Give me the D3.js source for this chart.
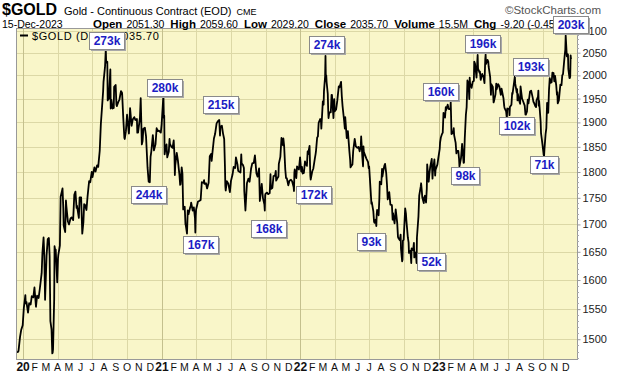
<!DOCTYPE html>
<html><head><meta charset="utf-8">
<script src="https://d3js.org/d3.v7.min.js"></script>
<style>
html,body{margin:0;padding:0;background:#fff;}
svg{display:block;}
text{font-family:Arial,"Liberation Sans",sans-serif;}
</style></head><body>
<svg id="c" width="620" height="376"></svg>
<script>
// ---------- DATA ----------
const close2019 = [["2019-12-16",1480],["2019-12-18",1479],["2019-12-20",1481],["2019-12-24",1504],["2019-12-27",1515],["2019-12-31",1523]];
const close2020 = [["2020-01-03",1552],["2020-01-06",1568],["2020-01-07",1574],["2020-01-08",1560],["2020-01-10",1562],["2020-01-14",1544],["2020-01-17",1560],["2020-01-21",1558],["2020-01-24",1572],["2020-01-28",1570],["2020-01-31",1587],["2020-02-04",1554],["2020-02-07",1573],["2020-02-11",1569],["2020-02-14",1584],["2020-02-19",1612],["2020-02-21",1648],["2020-02-24",1676],["2020-02-26",1643],["2020-02-28",1566],["2020-03-03",1644],["2020-03-06",1673],["2020-03-09",1675],["2020-03-11",1642],["2020-03-13",1530],["2020-03-16",1516],["2020-03-18",1477],["2020-03-19",1478],["2020-03-20",1484],["2020-03-23",1567],["2020-03-24",1660],["2020-03-26",1651],["2020-03-27",1654],["2020-03-31",1596],["2020-04-02",1638],["2020-04-03",1645],["2020-04-07",1661],["2020-04-09",1752],["2020-04-14",1768],["2020-04-16",1731],["2020-04-17",1698],["2020-04-21",1686],["2020-04-23",1745],["2020-04-24",1735],["2020-04-28",1706],["2020-05-01",1700],["2020-05-05",1711],["2020-05-08",1713],["2020-05-12",1708],["2020-05-15",1756],["2020-05-18",1762],["2020-05-21",1731],["2020-05-22",1735],["2020-05-27",1712],["2020-05-29",1751],["2020-06-02",1751],["2020-06-05",1683],["2020-06-08",1704],["2020-06-10",1738],["2020-06-12",1737],["2020-06-16",1727],["2020-06-19",1753],["2020-06-23",1782],["2020-06-26",1780],["2020-06-30",1800],["2020-07-02",1790],["2020-07-07",1809],["2020-07-10",1801],["2020-07-14",1813],["2020-07-17",1810],["2020-07-21",1842],["2020-07-24",1897],["2020-07-27",1931],["2020-07-30",1966],["2020-07-31",1986],["2020-08-04",2019],["2020-08-06",2058],["2020-08-07",2028],["2020-08-10",2030],["2020-08-11",1946],["2020-08-13",1954],["2020-08-14",1949],["2020-08-18",2013],["2020-08-19",1929],["2020-08-21",1947],["2020-08-24",1929],["2020-08-27",1930],["2020-08-28",1975],["2020-09-01",1979],["2020-09-03",1938],["2020-09-04",1934],["2020-09-08",1943],["2020-09-11",1948],["2020-09-15",1966],["2020-09-18",1962],["2020-09-21",1910],["2020-09-24",1868],["2020-09-25",1866],["2020-09-28",1882],["2020-10-01",1916],["2020-10-02",1907],["2020-10-06",1877],["2020-10-09",1930],["2020-10-13",1893],["2020-10-16",1906],["2020-10-20",1911],["2020-10-23",1905],["2020-10-27",1907],["2020-10-28",1879],["2020-10-30",1879],["2020-11-04",1910],["2020-11-06",1951],["2020-11-09",1855],["2020-11-11",1862],["2020-11-13",1887],["2020-11-17",1889],["2020-11-20",1872],["2020-11-24",1809],["2020-11-27",1781],["2020-11-30",1780],["2020-12-02",1830],["2020-12-04",1841],["2020-12-08",1874],["2020-12-11",1843],["2020-12-15",1855],["2020-12-18",1888],["2020-12-21",1882],["2020-12-24",1883],["2020-12-29",1879],["2020-12-31",1895]];
const close2021 = [["2021-01-04",1946],["2021-01-05",1954],["2021-01-06",1909],["2021-01-07",1914],["2021-01-08",1835],["2021-01-11",1850],["2021-01-13",1855],["2021-01-15",1829],["2021-01-19",1840],["2021-01-21",1866],["2021-01-22",1856],["2021-01-26",1850],["2021-01-29",1848],["2021-02-01",1863],["2021-02-03",1833],["2021-02-04",1794],["2021-02-05",1813],["2021-02-09",1838],["2021-02-12",1823],["2021-02-16",1795],["2021-02-18",1775],["2021-02-19",1776],["2021-02-22",1809],["2021-02-24",1797],["2021-02-26",1728],["2021-03-02",1733],["2021-03-04",1700],["2021-03-05",1698],["2021-03-08",1683],["2021-03-10",1726],["2021-03-12",1719],["2021-03-16",1731],["2021-03-18",1735],["2021-03-19",1741],["2021-03-23",1726],["2021-03-26",1732],["2021-03-29",1712],["2021-03-30",1685],["2021-03-31",1715],["2021-04-01",1728],["2021-04-06",1743],["2021-04-09",1744],["2021-04-13",1746],["2021-04-16",1780],["2021-04-20",1779],["2021-04-22",1784],["2021-04-23",1777],["2021-04-27",1778],["2021-04-30",1768],["2021-05-04",1779],["2021-05-07",1831],["2021-05-11",1836],["2021-05-12",1822],["2021-05-14",1838],["2021-05-18",1867],["2021-05-21",1876],["2021-05-25",1898],["2021-05-28",1902],["2021-06-01",1905],["2021-06-03",1873],["2021-06-04",1891],["2021-06-08",1893],["2021-06-11",1877],["2021-06-14",1866],["2021-06-16",1812],["2021-06-17",1773],["2021-06-18",1764],["2021-06-21",1782],["2021-06-25",1777],["2021-06-29",1761],["2021-07-01",1776],["2021-07-02",1783],["2021-07-06",1795],["2021-07-09",1810],["2021-07-13",1808],["2021-07-15",1829],["2021-07-19",1815],["2021-07-21",1802],["2021-07-23",1801],["2021-07-27",1799],["2021-07-29",1835],["2021-07-30",1817],["2021-08-03",1813],["2021-08-05",1808],["2021-08-06",1763],["2021-08-09",1726],["2021-08-11",1752],["2021-08-13",1778],["2021-08-17",1787],["2021-08-20",1781],["2021-08-24",1807],["2021-08-27",1817],["2021-08-31",1818],["2021-09-03",1833],["2021-09-07",1797],["2021-09-10",1791],["2021-09-14",1807],["2021-09-16",1744],["2021-09-17",1751],["2021-09-21",1777],["2021-09-24",1750],["2021-09-28",1737],["2021-09-29",1726],["2021-09-30",1755],["2021-10-01",1758],["2021-10-05",1760],["2021-10-08",1757],["2021-10-12",1759],["2021-10-14",1796],["2021-10-15",1767],["2021-10-19",1769],["2021-10-22",1792],["2021-10-26",1793],["2021-10-28",1802],["2021-10-29",1783],["2021-11-02",1789],["2021-11-04",1791],["2021-11-05",1816],["2021-11-09",1830],["2021-11-12",1868],["2021-11-16",1853],["2021-11-17",1867],["2021-11-19",1852],["2021-11-22",1805],["2021-11-24",1788],["2021-11-26",1788],["2021-11-30",1774],["2021-12-03",1783],["2021-12-07",1785],["2021-12-10",1782],["2021-12-14",1771],["2021-12-15",1763],["2021-12-16",1799],["2021-12-17",1805],["2021-12-21",1788],["2021-12-23",1811],["2021-12-28",1805],["2021-12-31",1829]];
const close2022 = [["2022-01-03",1801],["2022-01-05",1810],["2022-01-07",1797],["2022-01-10",1798],["2022-01-13",1821],["2022-01-14",1817],["2022-01-18",1812],["2022-01-20",1841],["2022-01-21",1835],["2022-01-25",1852],["2022-01-27",1793],["2022-01-28",1785],["2022-02-01",1801],["2022-02-04",1807],["2022-02-08",1827],["2022-02-10",1836],["2022-02-11",1842],["2022-02-14",1869],["2022-02-16",1871],["2022-02-18",1899],["2022-02-22",1907],["2022-02-24",1904],["2022-02-25",1887],["2022-03-01",1944],["2022-03-03",1937],["2022-03-04",1966],["2022-03-07",1998],["2022-03-08",2043],["2022-03-09",1988],["2022-03-10",2000],["2022-03-11",1985],["2022-03-14",1960],["2022-03-15",1929],["2022-03-16",1909],["2022-03-18",1921],["2022-03-22",1921],["2022-03-24",1958],["2022-03-25",1958],["2022-03-29",1909],["2022-03-31",1949],["2022-04-01",1923],["2022-04-05",1927],["2022-04-08",1945],["2022-04-12",1976],["2022-04-14",1974],["2022-04-18",1986],["2022-04-20",1955],["2022-04-22",1934],["2022-04-26",1904],["2022-04-28",1887],["2022-04-29",1911],["2022-05-03",1868],["2022-05-05",1876],["2022-05-06",1882],["2022-05-10",1841],["2022-05-12",1824],["2022-05-13",1809],["2022-05-16",1813],["2022-05-18",1815],["2022-05-20",1842],["2022-05-24",1866],["2022-05-27",1851],["2022-05-31",1848],["2022-06-03",1850],["2022-06-06",1841],["2022-06-09",1852],["2022-06-10",1871],["2022-06-13",1831],["2022-06-15",1811],["2022-06-16",1851],["2022-06-17",1840],["2022-06-21",1832],["2022-06-24",1826],["2022-06-28",1820],["2022-06-30",1807],["2022-07-01",1811],["2022-07-05",1763],["2022-07-07",1739],["2022-07-08",1742],["2022-07-12",1725],["2022-07-14",1705],["2022-07-15",1703],["2022-07-18",1709],["2022-07-20",1697],["2022-07-21",1719],["2022-07-22",1727],["2022-07-26",1717],["2022-07-28",1750],["2022-07-29",1781],["2022-08-02",1776],["2022-08-04",1806],["2022-08-05",1791],["2022-08-08",1805],["2022-08-10",1812],["2022-08-12",1816],["2022-08-15",1798],["2022-08-17",1776],["2022-08-19",1747],["2022-08-23",1761],["2022-08-26",1737],["2022-08-30",1736],["2022-09-01",1709],["2022-09-02",1721],["2022-09-06",1702],["2022-09-08",1718],["2022-09-09",1728],["2022-09-13",1703],["2022-09-15",1677],["2022-09-16",1675],["2022-09-20",1671],["2022-09-22",1681],["2022-09-23",1655],["2022-09-26",1633],["2022-09-27",1636],["2022-09-28",1670],["2022-09-30",1672],["2022-10-04",1730],["2022-10-06",1720],["2022-10-07",1709],["2022-10-11",1676],["2022-10-13",1667],["2022-10-14",1648],["2022-10-18",1652],["2022-10-20",1630],["2022-10-21",1656],["2022-10-25",1653],["2022-10-27",1666],["2022-10-28",1640],["2022-11-01",1649],["2022-11-03",1630],["2022-11-04",1676],["2022-11-08",1715],["2022-11-10",1754],["2022-11-14",1772],["2022-11-15",1778],["2022-11-17",1762],["2022-11-18",1751],["2022-11-22",1740],["2022-11-23",1750],["2022-11-25",1754],["2022-11-28",1741],["2022-11-30",1768],["2022-12-01",1815],["2022-12-05",1781],["2022-12-07",1798],["2022-12-09",1810],["2022-12-13",1826],["2022-12-15",1787],["2022-12-16",1800],["2022-12-20",1825],["2022-12-22",1793],["2022-12-23",1804],["2022-12-28",1815],["2022-12-30",1826]];
const close2023 = [["2023-01-03",1846],["2023-01-04",1859],["2023-01-06",1869],["2023-01-09",1876],["2023-01-11",1879],["2023-01-13",1920],["2023-01-17",1910],["2023-01-19",1932],["2023-01-20",1926],["2023-01-24",1937],["2023-01-26",1930],["2023-01-27",1928],["2023-01-31",1928],["2023-02-01",1942],["2023-02-02",1912],["2023-02-03",1876],["2023-02-07",1878],["2023-02-09",1888],["2023-02-10",1874],["2023-02-14",1858],["2023-02-16",1837],["2023-02-17",1842],["2023-02-21",1842],["2023-02-23",1826],["2023-02-24",1811],["2023-02-28",1827],["2023-03-02",1845],["2023-03-03",1856],["2023-03-07",1818],["2023-03-08",1819],["2023-03-10",1867],["2023-03-13",1916],["2023-03-15",1932],["2023-03-17",1989],["2023-03-20",1982],["2023-03-22",1949],["2023-03-23",1995],["2023-03-24",1983],["2023-03-28",1973],["2023-03-31",1986],["2023-04-03",1988],["2023-04-04",2030],["2023-04-06",2026],["2023-04-10",1995],["2023-04-12",2029],["2023-04-13",2045],["2023-04-14",2015],["2023-04-18",2006],["2023-04-19",2008],["2023-04-21",1990],["2023-04-25",2003],["2023-04-27",1998],["2023-04-28",1999],["2023-05-01",1983],["2023-05-03",2035],["2023-05-04",2046],["2023-05-05",2025],["2023-05-09",2034],["2023-05-11",2030],["2023-05-12",2019],["2023-05-16",1996],["2023-05-18",1958],["2023-05-19",1981],["2023-05-23",1975],["2023-05-25",1942],["2023-05-26",1944],["2023-05-30",1959],["2023-06-01",1982],["2023-06-02",1970],["2023-06-06",1981],["2023-06-08",1978],["2023-06-09",1977],["2023-06-13",1958],["2023-06-15",1971],["2023-06-20",1951],["2023-06-22",1934],["2023-06-23",1930],["2023-06-27",1923],["2023-06-29",1908],["2023-06-30",1929],["2023-07-05",1928],["2023-07-06",1915],["2023-07-07",1932],["2023-07-11",1937],["2023-07-13",1962],["2023-07-14",1960],["2023-07-18",1985],["2023-07-20",1998],["2023-07-21",1982],["2023-07-25",1963],["2023-07-26",1970],["2023-07-27",1946],["2023-07-28",1960],["2023-08-01",1944],["2023-08-03",1939],["2023-08-04",1976],["2023-08-08",1950],["2023-08-10",1946],["2023-08-15",1935],["2023-08-17",1916],["2023-08-18",1916],["2023-08-21",1923],["2023-08-23",1948],["2023-08-25",1940],["2023-08-29",1965],["2023-08-31",1966],["2023-09-01",1967],["2023-09-05",1952],["2023-09-07",1943],["2023-09-08",1942],["2023-09-12",1934],["2023-09-14",1932],["2023-09-15",1946],["2023-09-19",1954],["2023-09-20",1967],["2023-09-21",1935],["2023-09-22",1945],["2023-09-26",1901],["2023-09-27",1878],["2023-09-29",1866],["2023-10-02",1847],["2023-10-04",1834],["2023-10-05",1831],["2023-10-06",1845],["2023-10-09",1876],["2023-10-11",1888],["2023-10-13",1941],["2023-10-16",1920],["2023-10-18",1968],["2023-10-20",1994],["2023-10-23",1984],["2023-10-25",1985],["2023-10-27",2006],["2023-10-30",2005],["2023-11-01",1987],["2023-11-03",1999],["2023-11-06",1979],["2023-11-08",1958],["2023-11-09",1964],["2023-11-10",1940],["2023-11-13",1946],["2023-11-15",1963],["2023-11-17",1980],["2023-11-20",1979],["2023-11-22",2000],["2023-11-24",2003],["2023-11-28",2041],["2023-11-30",2057],["2023-12-01",2089],["2023-12-04",2042],["2023-12-06",2047],["2023-12-07",2046],["2023-12-08",2014],["2023-12-11",1994],["2023-12-12",1994],["2023-12-13",1998],["2023-12-14",2044],["2023-12-15",2036]];

const priceTicks = [1500,1550,1600,1650,1700,1750,1800,1850,1900,1950,2000,2050,2100];
const priceDomain = [1468, 2106];
const monthInitials = ["J","F","M","A","M","J","J","A","S","O","N","D"];

// volume call-outs: label, anchor date, anchor price, side of the anchor
const annLabels = ["273k","280k","244k","167k","215k","168k","172k","274k","93k","52k","160k","98k","196k","102k","193k","71k","203k"];
const annDates  = ["2020-08-08","2021-01-07","2020-11-26","2021-04-13","2021-06-05","2021-10-10","2022-02-04","2022-03-11","2022-07-06","2022-12-10","2023-01-05","2023-03-10","2023-04-27","2023-07-25","2023-08-29","2023-10-06","2023-12-13"];
const annPrices = [2059,1955,1772,1678,1920,1709,1772,2050,1684,1648,1947,1810,2052,1912,2001,1831,2095];
const annSides  = ["above","above","below","below","above","below","below","above","below","below","above","below","above","below","above","below","above"];

const header = {symbol:"$GOLD", name:"Gold - Continuous Contract (EOD)", exch:"CME", date:"15-Dec-2023"};
const quoteLabels = ["Open","High","Low","Close","Volume","Chg"];
const quoteValues = ["2051.30","2059.60","2029.20","2035.70","15.5M","-9.20 (-0.45%)"];
const legendText = "$GOLD (Daily) 2035.70";

// ---------- LAYOUT ----------
const svg = d3.select("#c");
const P = {l:16, r:577, t:28, b:359};
const parse = d3.timeParse("%Y-%m-%d");
const series = [...close2019, ...close2020, ...close2021, ...close2022, ...close2023]
  .map(([d,v]) => ({date: parse(d), close: v}));

const x = d3.scaleTime().domain(d3.extent(series, d => d.date)).range([17, 571]);
const y = d3.scaleLog().domain(priceDomain).range([P.b, P.t]);

svg.append("rect").attr("width",620).attr("height",376).attr("fill","#fff");

// plot background
svg.append("rect").attr("x",P.l).attr("y",P.t).attr("width",P.r-P.l).attr("height",P.b-P.t)
  .attr("fill","#f9f6c9");

svg.append("defs").append("clipPath").attr("id","clip")
  .append("rect").attr("x",P.l).attr("y",P.t).attr("width",P.r-P.l).attr("height",P.b-P.t);

// horizontal grid
svg.append("g").selectAll("line").data(priceTicks).join("line")
  .attr("x1",P.l).attr("x2",P.r).attr("y1",d=>Math.round(y(d))+0.5).attr("y2",d=>Math.round(y(d))+0.5)
  .attr("stroke","#dcd8a6").attr("stroke-width",1);

// vertical grid (quarterly)
const qMonths = d3.timeMonth.every(3).range(new Date(2020,0,1), x.domain()[1]);
svg.append("g").selectAll("line").data(qMonths).join("line")
  .attr("x1",d=>Math.round(x(d))+0.5).attr("x2",d=>Math.round(x(d))+0.5).attr("y1",P.t).attr("y2",P.b)
  .attr("stroke",d=>d.getMonth()===0?"#c4c08e":"#dcd8a6").attr("stroke-width",1);

// price line
const line = d3.line().x(d=>x(d.date)).y(d=>y(d.close));
svg.append("path").datum(series).attr("clip-path","url(#clip)")
  .attr("d",line).attr("fill","none").attr("stroke","#000").attr("stroke-width",1.8)
  .attr("stroke-linejoin","round");

// plot frame
svg.append("rect").attr("x",P.l+0.5).attr("y",P.t+0.5).attr("width",P.r-P.l).attr("height",P.b-P.t)
  .attr("fill","none").attr("stroke","#999").attr("stroke-width",1);

// right axis
const yAxis = d3.axisRight(y).tickValues(priceTicks).tickFormat(d3.format("d")).tickSize(3).tickPadding(2);
const ga = svg.append("g").attr("transform",`translate(${P.r+0.5},0)`).call(yAxis);
ga.select(".domain").remove();
ga.selectAll("line").attr("stroke","#999");
ga.selectAll("text").attr("font-size",11).attr("fill","#222").attr("font-family","Arial, 'Liberation Sans', sans-serif");
// minor ticks
const minor = d3.range(1470, 2110, 10).filter(v => v % 50 !== 0);
svg.append("g").selectAll("line").data(minor).join("line")
  .attr("x1",P.r).attr("x2",P.r+2).attr("y1",d=>Math.round(y(d))+0.5).attr("y2",d=>Math.round(y(d))+0.5)
  .attr("stroke","#aaa");

// bottom month labels
const months = d3.timeMonth.range(new Date(2020,0,1), x.domain()[1]);
svg.append("g").selectAll("text").data(months).join("text")
  .attr("x",d=>x(d)).attr("y",371).attr("text-anchor","middle")
  .attr("font-size",d=>d.getMonth()===0?12:10.5)
  .attr("font-weight",d=>d.getMonth()===0?"bold":"normal")
  .attr("fill","#111")
  .text(d=>d.getMonth()===0?d3.timeFormat("%y")(d):monthInitials[d.getMonth()]);

// header line 1
svg.append("text").attr("x",2).attr("y",15).attr("font-size",16).attr("font-weight","bold").text(header.symbol);
const nameT = svg.append("text").attr("x",64).attr("y",15).attr("font-size",11).text(header.name);
svg.append("text").attr("x",64+nameT.node().getComputedTextLength()+5).attr("y",15).attr("font-size",9).text(header.exch);
svg.append("text").attr("x",601).attr("y",14).attr("text-anchor","end").attr("font-size",11.5)
  .attr("font-family","'DejaVu Sans', sans-serif").attr("fill","#555").text("\u00A9StockCharts.com");

// header line 2
svg.append("text").attr("x",2).attr("y",28).attr("font-size",10.5).text(header.date);
let cx0 = 93;
quoteLabels.forEach((lab,i)=>{
  const a = svg.append("text").attr("x",cx0).attr("y",28).attr("font-size",11.5).attr("font-weight","bold").text(lab);
  cx0 += a.node().getComputedTextLength()+4;
  const b = svg.append("text").attr("x",cx0).attr("y",28).attr("font-size",10.5).text(quoteValues[i]);
  cx0 += b.node().getComputedTextLength()+6;
});

// legend
svg.append("line").attr("x1",20).attr("x2",28).attr("y1",35.5).attr("y2",35.5).attr("stroke","#000").attr("stroke-width",2);
svg.append("text").attr("x",32).attr("y",39.5).attr("font-size",11).attr("letter-spacing","0.6px").text(legendText);

// annotations
annLabels.forEach((lab,i)=>{
  const g = svg.append("g");
  const t = g.append("text").text(lab).attr("font-size",12).attr("font-weight","bold").attr("fill","#1c1cc4")
    .attr("text-anchor","middle");
  const tw = t.node().getComputedTextLength();
  const bw = Math.round(tw+8), bh = 17;
  const cx = x(parse(annDates[i])), py = y(annPrices[i]);
  const top = Math.round(annSides[i]==="above" ? py-bh : py);
  const left = Math.round(cx-bw/2);
  g.insert("rect","text").attr("x",left+2).attr("y",top+2).attr("width",bw).attr("height",bh).attr("fill","#a8a8a8");
  g.insert("rect","text").attr("x",left+0.5).attr("y",top+0.5).attr("width",bw).attr("height",bh)
    .attr("fill","#fff").attr("stroke","#8a8a8a");
  t.attr("x",left+bw/2+0.5).attr("y",top+13);
});
</script>
</body></html>
